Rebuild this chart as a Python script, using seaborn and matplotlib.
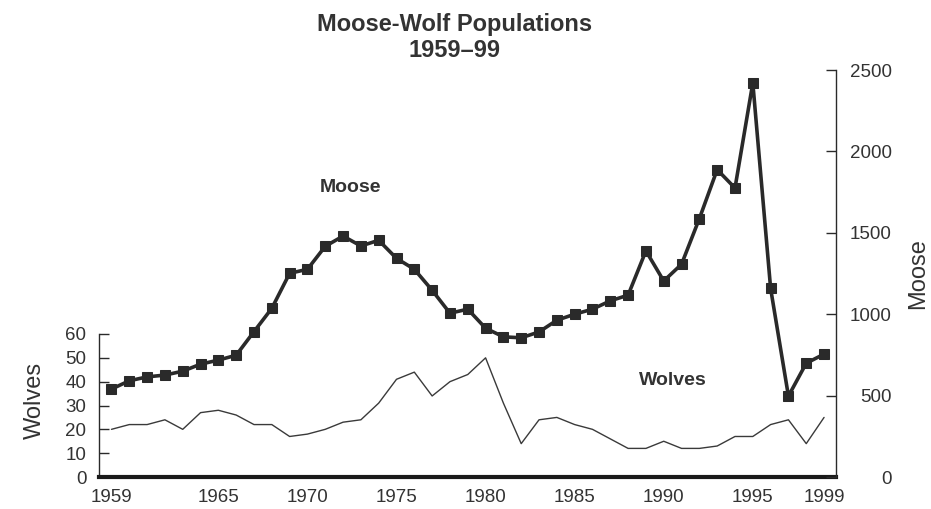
import matplotlib
matplotlib.use("Agg")
import matplotlib.pyplot as plt
import seaborn as sns
import pandas as pd

years = list(range(1959, 2000))
moose = [540, 591, 615, 626, 650, 693, 718, 748, 893, 1036,
         1251, 1276, 1417, 1480, 1419, 1454, 1343, 1276, 1147, 1006,
         1031, 914, 861, 855, 891, 963, 1000, 1031, 1082, 1117,
         1389, 1204, 1307, 1587, 1888, 1775, 2421, 1158, 497, 699,
         755]
wolves = [20, 22, 22, 24, 20, 27, 28, 26, 22, 22,
          17, 18, 20, 23, 24, 31, 41, 44, 34, 40,
          43, 50, 31, 14, 24, 25, 22, 20, 16, 12,
          12, 15, 12, 12, 13, 17, 17, 22, 24, 14,
          25]
year_ticks = [1959, 1965, 1970, 1975, 1980, 1985, 1990, 1995, 1999]
wolf_ticks = [0, 10, 20, 30, 40, 50, 60]
moose_ticks = [0, 500, 1000, 1500, 2000, 2500]

df = pd.DataFrame({"year": years, "moose": moose, "wolves": wolves})

sns.set_style("white")
plt.rcParams["font.family"] = ["Liberation Sans", "DejaVu Sans"]
ink = "#2a2a2a"
txt = "#333333"

fig = plt.figure(figsize=(9.31, 5.09), dpi=100)
ax1 = fig.add_axes([99 / 931, 1 - 477 / 509, (836 - 99) / 931, (477 - 70) / 509])
ax2 = ax1.twinx()

sns.lineplot(data=df, x="year", y="wolves", ax=ax1, color="#3a3a3a", linewidth=1.0)
sns.lineplot(data=df, x="year", y="moose", ax=ax2, color=ink, linewidth=2.6,
             marker="s", markersize=7, markeredgecolor=ink, markerfacecolor=ink)

ax1.set_xlim(1958.3, 1999.67)
ax1.set_ylim(0, 60 * 407 / 143)
ax2.set_ylim(0, 2500)

ax1.set_xlabel("")
ax1.set_ylabel("")
ax2.set_ylabel("")

ax1.set_xticks(year_ticks)
ax1.set_yticks(wolf_ticks)
ax2.set_yticks(moose_ticks)

for sp in ["top", "right"]:
    ax1.spines[sp].set_visible(False)
for sp in ["top", "left", "bottom"]:
    ax2.spines[sp].set_visible(False)
ax1.spines["left"].set_bounds(0, 60)
ax1.spines["left"].set_linewidth(1.0)
ax1.spines["left"].set_color(ink)
ax1.spines["bottom"].set_linewidth(3.0)
ax1.spines["bottom"].set_color("#1a1a1a")
ax2.spines["right"].set_linewidth(1.0)
ax2.spines["right"].set_color(ink)

ax1.tick_params(axis="x", length=0, pad=9, labelsize=13.5, labelcolor=txt)
ax1.tick_params(axis="y", direction="in", length=7, width=1, color=ink,
                pad=9, labelsize=13.5, labelcolor=txt, left=True)
ax2.tick_params(axis="y", direction="in", length=7, width=1, color=ink,
                pad=40, labelsize=13.5, labelcolor=txt, right=True)
for lbl in ax2.get_yticklabels():
    lbl.set_ha("right")

ax2.text(1972.4, 1781, "Moose", ha="center", va="center", fontsize=14,
         fontweight="bold", color=txt)
ax2.text(1990.5, 590, "Wolves", ha="center", va="center", fontsize=14,
         fontweight="bold", color=txt)

fig.text(455 / 931, 1 - 37.5 / 509, "Moose-Wolf Populations\n1959\u201399",
         ha="center", va="center", fontsize=17, fontweight="bold",
         color=txt, linespacing=1.2)
fig.text(35 / 931, 1 - 400 / 509, "Wolves", rotation=90, ha="center",
         va="center", fontsize=17, color=txt)
fig.text(918 / 931, 1 - 274 / 509, "Moose", rotation=90, ha="center",
         va="center", fontsize=17, color=txt)

fig.savefig("out.png", dpi=100)
